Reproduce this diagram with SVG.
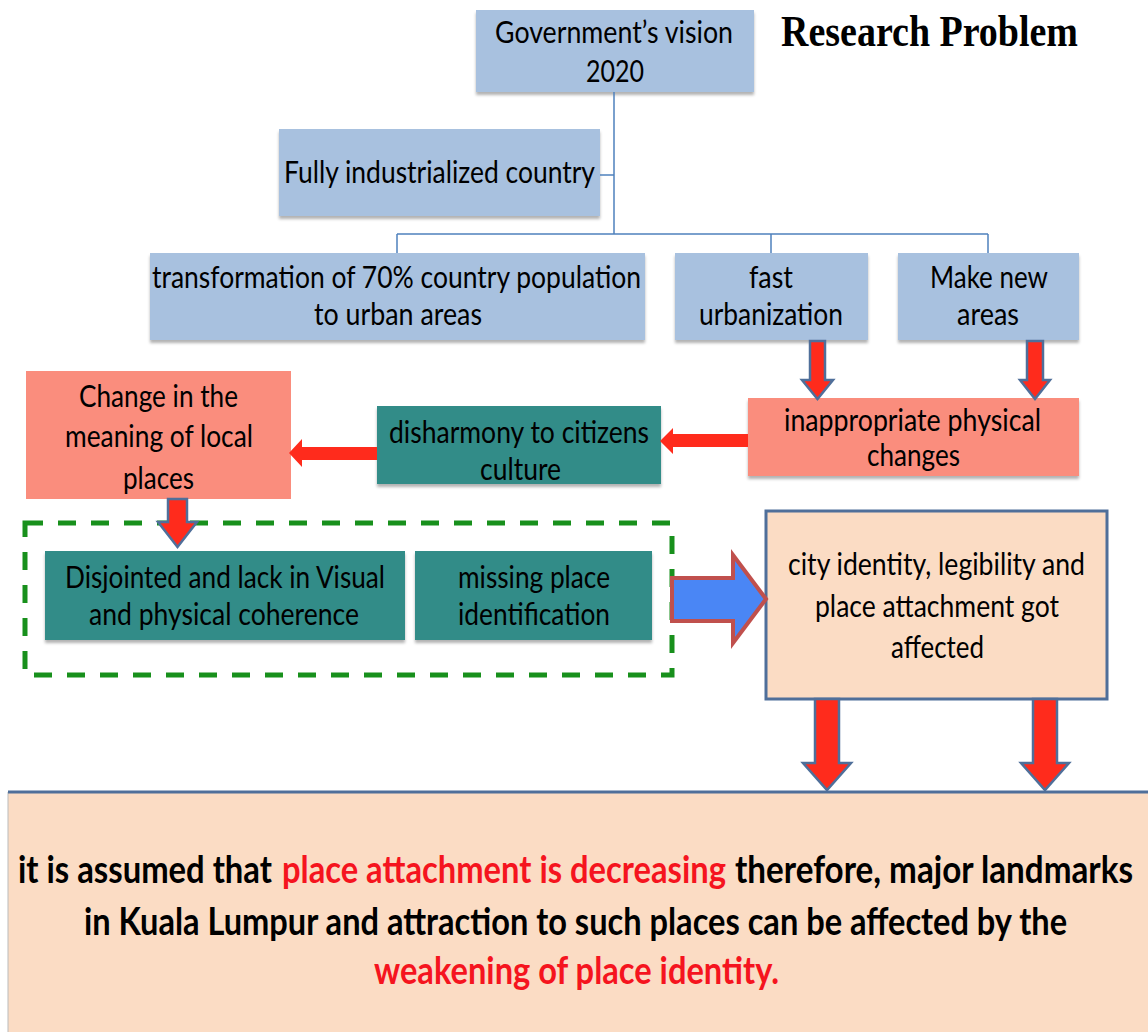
<svg xmlns="http://www.w3.org/2000/svg" width="1148" height="1032" viewBox="0 0 1148 1032">
<defs>
<filter id="sh" x="-5%" y="-10%" width="110%" height="130%">
<feDropShadow dx="0" dy="3" stdDeviation="1.5" flood-color="#000" flood-opacity="0.3"/>
</filter>
<style>
.t{font-family:Lato,"Liberation Sans",sans-serif;font-size:31px;fill:#000;text-anchor:middle}
.b{font-family:Lato,"Liberation Sans",sans-serif;font-size:38px;font-weight:bold;fill:#000;text-anchor:start}
.red{fill:#f5141e}
.blue{fill:#a8c1df;filter:url(#sh)}
.sal{fill:#fa8d7d}
.teal{fill:#328c88;filter:url(#sh)}
.peach{fill:#fbdcc4}
.tree{stroke:#4f81bd;stroke-width:1.5;fill:none}
.ra{fill:#ff2b1c;stroke:#4f6f9a;stroke-width:2.5;stroke-linejoin:miter}
.rl{fill:#ff2b1c}
</style>
</defs>
<rect width="1148" height="1032" fill="#fff"/>
<text x="781" y="46" font-family="'Liberation Serif',serif" font-weight="bold" font-size="44" textLength="297" lengthAdjust="spacingAndGlyphs" fill="#000">Research Problem</text>

<g id="bottom">
<rect x="8" y="792" width="1142" height="242" class="peach"/>
<line x1="8" y1="792" x2="8" y2="1032" stroke="#bbb" stroke-width="1"/>
<line x1="8" y1="792" x2="1148" y2="792" stroke="#4f6f9a" stroke-width="3"/>
<g transform="scale(0.78,1)">
<text class="b" x="23.1" y="883" textLength="325.6" lengthAdjust="spacingAndGlyphs">it is assumed that</text>
<text class="b red" x="361.5" y="883" textLength="569.2" lengthAdjust="spacingAndGlyphs">place attachment is decreasing</text>
<text class="b" x="942.3" y="883" textLength="510.3" lengthAdjust="spacingAndGlyphs">therefore, major landmarks</text>
<text class="b" x="107.7" y="935" textLength="1260.3" lengthAdjust="spacingAndGlyphs">in Kuala Lumpur and attraction to such places can be affected by the</text>
<text class="b red" x="479.5" y="984" textLength="519.2" lengthAdjust="spacingAndGlyphs">weakening of place identity.</text>
</g>
</g>

<g id="group-dashed">
<rect x="25" y="523" width="647" height="152" fill="none" stroke="#18901c" stroke-width="5" stroke-dasharray="18 15"/>
</g>

<g id="n-vision">
<rect x="476" y="10" width="278" height="82" class="blue"/>
<text class="t" x="614" y="43" textLength="238" lengthAdjust="spacingAndGlyphs">Government’s vision</text>
<text class="t" x="615" y="82" textLength="58" lengthAdjust="spacingAndGlyphs">2020</text>
</g>
<g id="n-industrial">
<rect x="279" y="129" width="321" height="87" class="blue"/>
<text class="t" x="439.5" y="183" textLength="311" lengthAdjust="spacingAndGlyphs">Fully industrialized country</text>
</g>
<g id="n-transformation">
<rect x="150" y="253" width="495" height="87" class="blue"/>
<text class="t" x="396.5" y="288" textLength="489" lengthAdjust="spacingAndGlyphs">transformation of 70% country population</text>
<text class="t" x="398" y="325" textLength="168" lengthAdjust="spacingAndGlyphs">to urban areas</text>
</g>
<g id="n-fast">
<rect x="675" y="253" width="193" height="87" class="blue"/>
<text class="t" x="771" y="288" textLength="44" lengthAdjust="spacingAndGlyphs">fast</text>
<text class="t" x="771" y="325" textLength="144" lengthAdjust="spacingAndGlyphs">urbanization</text>
</g>
<g id="n-newareas">
<rect x="898" y="253" width="181" height="87" class="blue"/>
<text class="t" x="989" y="288" textLength="118" lengthAdjust="spacingAndGlyphs">Make new</text>
<text class="t" x="988" y="325" textLength="62" lengthAdjust="spacingAndGlyphs">areas</text>
</g>
<g id="n-inappropriate">
<rect x="748" y="398" width="331" height="78" class="sal" filter="url(#sh)"/>
<text class="t" x="912.5" y="431" textLength="257" lengthAdjust="spacingAndGlyphs">inappropriate physical</text>
<text class="t" x="913.5" y="466" textLength="93" lengthAdjust="spacingAndGlyphs">changes</text>
</g>
<g id="n-disharmony">
<rect x="377" y="406" width="284" height="78" class="teal"/>
<text class="t" x="519" y="443" textLength="260" lengthAdjust="spacingAndGlyphs">disharmony to citizens</text>
<text class="t" x="520.5" y="480" textLength="81" lengthAdjust="spacingAndGlyphs">culture</text>
</g>
<g id="n-change">
<rect x="26" y="371" width="265" height="128" class="sal"/>
<text class="t" x="158.5" y="407" textLength="159" lengthAdjust="spacingAndGlyphs">Change in the</text>
<text class="t" x="159" y="447" textLength="188" lengthAdjust="spacingAndGlyphs">meaning of local</text>
<text class="t" x="158.5" y="489" textLength="71" lengthAdjust="spacingAndGlyphs">places</text>
</g>
<g id="n-disjointed">
<rect x="45" y="551" width="360" height="89" class="teal"/>
<text class="t" x="225" y="588" textLength="320" lengthAdjust="spacingAndGlyphs">Disjointed and lack in Visual</text>
<text class="t" x="224" y="625" textLength="270" lengthAdjust="spacingAndGlyphs">and physical coherence</text>
</g>
<g id="n-missing">
<rect x="415" y="551" width="237" height="89" class="teal"/>
<text class="t" x="534" y="588" textLength="152" lengthAdjust="spacingAndGlyphs">missing place</text>
<text class="t" x="534" y="625" textLength="152" lengthAdjust="spacingAndGlyphs">identification</text>
</g>
<g id="n-city">
<rect x="766" y="511" width="341" height="188" class="peach" stroke="#4f6f9a" stroke-width="3"/>
<text class="t" x="936.5" y="575" textLength="297" lengthAdjust="spacingAndGlyphs">city identity, legibility and</text>
<text class="t" x="937" y="617" textLength="244" lengthAdjust="spacingAndGlyphs">place attachment got</text>
<text class="t" x="937.5" y="658" textLength="93" lengthAdjust="spacingAndGlyphs">affected</text>
</g>

<g id="connectors">
<path class="tree" d="M614,92 V234 M600,175 H614 M397,234 H988 M397,234 V253 M771,234 V253 M988,234 V253"/>
<path class="ra" d="M810,341 H825 V380 H833 L817.5,399 L802,380 H810 Z"/>
<path class="ra" d="M1027,341 H1043 V380 H1050 L1035,399 L1020,380 H1027 Z"/>
<path class="rl" d="M748,434 H673 V428 L660,441 L673,454 V447 H748 Z"/>
<path class="rl" d="M377,447 H302 V439 L289,453 L302,467 V460 H377 Z"/>
<path class="ra" d="M168,499 H187 V522 H197 L177.5,547 L158,522 H168 Z"/>
<path d="M672,578 H733 V555 L766,599 L733,643 V621 H672 Z" fill="#4a86f5" stroke="#c0504d" stroke-width="4"/>
<path class="ra" d="M815,699 H839 V763 H851 L827,790 L803,763 H815 Z"/>
<path class="ra" d="M1033,699 H1057 V763 H1069 L1045,790 L1021,763 H1033 Z"/>
</g>
</svg>
